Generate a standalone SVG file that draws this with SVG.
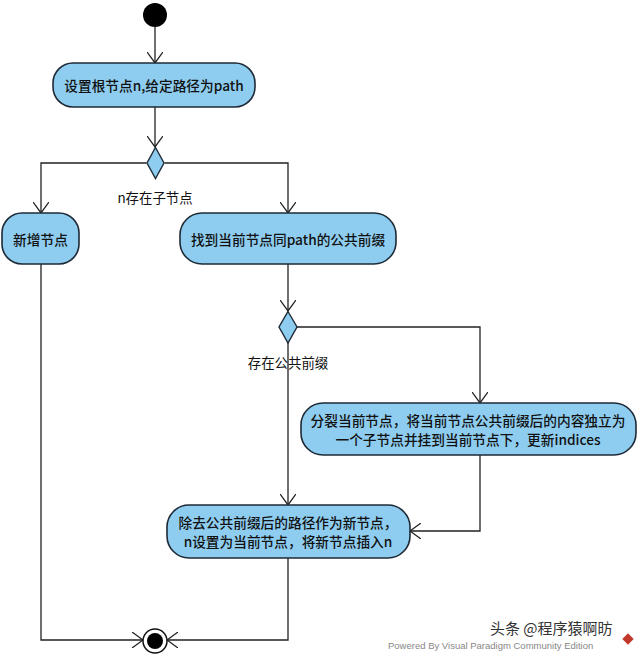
<svg xmlns="http://www.w3.org/2000/svg" width="640" height="658" viewBox="0 0 640 658">
<style>
.box{fill:#8ECDF0;stroke:#1E2A36;stroke-width:1.6}
.dia{fill:#8ECDF0;stroke:#1E2A36;stroke-width:1.4}
.t{font-family:"Noto Sans CJK SC","Noto Sans",sans-serif;font-size:13.7px;font-weight:500;fill:#111;text-anchor:middle;dominant-baseline:central}
.lbl{font-family:"Noto Sans CJK SC","Noto Sans",sans-serif;font-size:13.4px;fill:#111;text-anchor:middle;dominant-baseline:central}
.c{fill:none;stroke:#222;stroke-width:1.3}
</style>
<defs>
<marker id="ar" viewBox="0 0 12 16" refX="11" refY="8" markerWidth="12" markerHeight="16" markerUnits="userSpaceOnUse" orient="auto">
<path d="M0,0 L11,8 L0,16" fill="none" stroke="#222" stroke-width="1.3"/>
</marker>
</defs>
<rect width="640" height="658" fill="#fff"/>
<g id="connectors">
<path class="c" d="M155,27 V63" marker-end="url(#ar)"/>
<path class="c" d="M155,107 V147" marker-end="url(#ar)"/>
<path class="c" d="M146.5,163 H41 V213" marker-end="url(#ar)"/>
<path class="c" d="M164.5,163 H288 V213" marker-end="url(#ar)"/>
<path class="c" d="M288,264 V311" marker-end="url(#ar)"/>
<path class="c" d="M297,327 H480 V403" marker-end="url(#ar)"/>
<path class="c" d="M288,343 V505" marker-end="url(#ar)"/>
<path class="c" d="M480,455 V531 H410" marker-end="url(#ar)"/>
<path class="c" d="M41,264 V640 H143" marker-end="url(#ar)"/>
<path class="c" d="M288,558 V640 H167" marker-end="url(#ar)"/>
</g>
<g id="start"><circle cx="155" cy="15" r="12" fill="#000"/></g>
<g id="n1"><rect class="box" x="53" y="63" width="202" height="44" rx="20"/><text class="t" x="154" y="85">设置根节点n,给定路径为path</text></g>
<g id="d1"><polygon class="dia" points="155.5,147.5 164,163 155.5,178.5 147,163"/><text class="lbl" x="155" y="197">n存在子节点</text></g>
<g id="n2"><rect class="box" x="2" y="213" width="77" height="51" rx="20"/><text class="t" x="40.5" y="239">新增节点</text></g>
<g id="n3"><rect class="box" x="180" y="213" width="216" height="51" rx="22"/><text class="t" x="288" y="239">找到当前节点同path的公共前缀</text></g>
<g id="d2"><polygon class="dia" points="288,311.5 297,327 288,343 279,327"/><text class="lbl" x="288" y="362">存在公共前缀</text></g>
<g id="n4"><rect class="box" x="301" y="403" width="335" height="52" rx="22"/><text class="t" x="468" y="419.5">分裂当前节点，将当前节点公共前缀后的内容独立为</text><text class="t" x="468" y="438.5">一个子节点并挂到当前节点下，更新indices</text></g>
<g id="n5"><rect class="box" x="167" y="505" width="243" height="53" rx="22"/><text class="t" x="288" y="522">除去公共前缀后的路径作为新节点，</text><text class="t" x="288" y="541">n设置为当前节点，将新节点插入n</text></g>
<g id="end"><circle cx="155" cy="641" r="12" fill="#fff" stroke="#111" stroke-width="1.5"/><circle cx="155" cy="641" r="8" fill="#000"/></g>
<g id="watermark">
<text x="388" y="649" font-family="'Liberation Sans',sans-serif" font-size="9.5" fill="#888">Powered By Visual Paradigm Community Edition</text>
<text x="490" y="634" font-family="'Noto Sans CJK SC',sans-serif" font-size="15" fill="#333">头条 @程序猿啊昉</text>
<rect x="624" y="635" width="8" height="8" fill="#c0392b" transform="rotate(45 628 639)"/>
</g>
</svg>
